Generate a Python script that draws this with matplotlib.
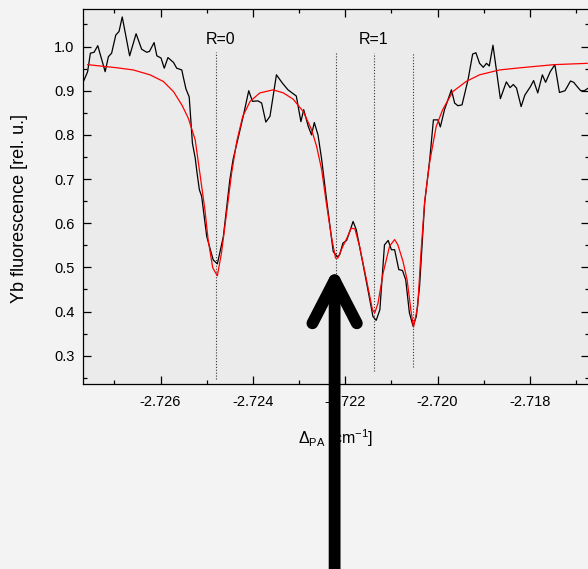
import matplotlib
matplotlib.use("Agg")
import matplotlib.pyplot as plt
from matplotlib.ticker import MultipleLocator, FormatStrFormatter

plt.rcParams['font.family'] = ['Liberation Sans', 'DejaVu Sans']
plt.rcParams['mathtext.fontset'] = 'custom'
plt.rcParams['mathtext.rm'] = 'Liberation Sans'
plt.rcParams['mathtext.it'] = 'Liberation Sans:italic'

# Measured fluorescence spectrum (detuning in cm^-1, fluorescence in rel. u.)
detuning = [
    -2.72767, -2.72758, -2.72752, -2.72744, -2.72736, -2.72720, -2.72713, -2.72706,
    -2.72697, -2.72690, -2.72683, -2.72667, -2.72653, -2.72641, -2.72630, -2.72624,
    -2.72614, -2.72608, -2.72599, -2.72592, -2.72584, -2.72572, -2.72565, -2.72554,
    -2.72551, -2.72545, -2.72538, -2.72535, -2.72531, -2.72525, -2.72521, -2.72516,
    -2.72511, -2.72500, -2.72486, -2.72477, -2.72464, -2.72450, -2.72443, -2.72421,
    -2.72409, -2.72401, -2.72389, -2.72381, -2.72372, -2.72363, -2.72349, -2.72336,
    -2.72324, -2.72306, -2.72296, -2.72290, -2.72280, -2.72273, -2.72267, -2.72259,
    -2.72251, -2.72241, -2.72233, -2.72226, -2.72221, -2.72216, -2.72212, -2.72205,
    -2.72197, -2.72189, -2.72183, -2.72176, -2.72162, -2.72151, -2.72140, -2.72133,
    -2.72125, -2.72115, -2.72107, -2.72100, -2.72093, -2.72084, -2.72076, -2.72069,
    -2.72061, -2.72053, -2.72046, -2.72039, -2.72028, -2.72017, -2.72009, -2.71999,
    -2.71994, -2.71985, -2.71970, -2.71963, -2.71956, -2.71947, -2.71934, -2.71924,
    -2.71917, -2.71909, -2.71901, -2.71894, -2.71888, -2.71880, -2.71864, -2.71851,
    -2.71843, -2.71836, -2.71829, -2.71819, -2.71811, -2.71799, -2.71792, -2.71783,
    -2.71773, -2.71766, -2.71756, -2.71746, -2.71736, -2.71724, -2.71712, -2.71705,
    -2.71699, -2.71690, -2.71682, -2.71675,
]
fluorescence = [
    0.921, 0.943, 0.985, 0.987, 1.002, 0.943, 0.977, 0.985,
    1.026, 1.034, 1.067, 0.979, 1.029, 0.994, 0.987, 0.989,
    1.009, 0.979, 0.974, 0.951, 0.975, 0.964, 0.951, 0.947,
    0.932, 0.904, 0.886, 0.842, 0.781, 0.748, 0.714, 0.676,
    0.661, 0.570, 0.517, 0.508, 0.570, 0.698, 0.744, 0.842,
    0.900, 0.876, 0.877, 0.872, 0.829, 0.842, 0.936, 0.917,
    0.902, 0.888, 0.830, 0.857, 0.819, 0.800, 0.828, 0.800,
    0.744, 0.658, 0.593, 0.536, 0.529, 0.524, 0.529, 0.555,
    0.561, 0.585, 0.604, 0.585, 0.510, 0.450, 0.389, 0.380,
    0.404, 0.551, 0.561, 0.540, 0.540, 0.495, 0.493, 0.472,
    0.397, 0.367, 0.389, 0.457, 0.646, 0.744, 0.834, 0.834,
    0.818, 0.857, 0.902, 0.872, 0.866, 0.868, 0.925, 0.983,
    0.986, 0.962, 0.953, 0.962, 0.956, 1.003, 0.882, 0.920,
    0.907, 0.914, 0.906, 0.864, 0.890, 0.909, 0.923, 0.895,
    0.936, 0.919, 0.943, 0.959, 0.896, 0.900, 0.922, 0.919,
    0.911, 0.900, 0.900, 0.905,
]

# Fitted line profile
fit_detuning = [
    -2.72758, -2.72731, -2.72695, -2.72659, -2.72623, -2.72594, -2.72572, -2.72554,
    -2.72540, -2.72525, -2.72515, -2.72504, -2.72497, -2.72487, -2.72477, -2.72468,
    -2.72457, -2.72446, -2.72435, -2.72422, -2.72406, -2.72385, -2.72356, -2.72334,
    -2.72313, -2.72291, -2.72273, -2.72262, -2.72251, -2.72241, -2.72230, -2.72221,
    -2.72216, -2.72205, -2.72196, -2.72187, -2.72179, -2.72169, -2.72154, -2.72141,
    -2.72136, -2.72129, -2.72118, -2.72104, -2.72093, -2.72086, -2.72075, -2.72066,
    -2.72057, -2.72052, -2.72043, -2.72036, -2.72028, -2.72017, -2.72003, -2.71989,
    -2.71967, -2.71938, -2.71909, -2.71866, -2.71820, -2.71748, -2.71676,
]
fit_fluorescence = [
    0.959, 0.956, 0.952, 0.947, 0.936, 0.921, 0.898, 0.868,
    0.838, 0.789, 0.714, 0.631, 0.563, 0.499, 0.481, 0.533,
    0.623, 0.714, 0.785, 0.842, 0.876, 0.895, 0.902, 0.895,
    0.881, 0.853, 0.812, 0.774, 0.721, 0.646, 0.570, 0.521,
    0.521, 0.548, 0.567, 0.589, 0.587, 0.548, 0.472, 0.404,
    0.397, 0.419, 0.487, 0.548, 0.563, 0.551, 0.514, 0.472,
    0.397, 0.365, 0.412, 0.533, 0.649, 0.739, 0.819, 0.857,
    0.898, 0.921, 0.936, 0.947, 0.952, 0.959, 0.962,
]

# Line positions of the rotational components
line_positions = [-2.72479, -2.72219, -2.72137, -2.72054]
line_bottoms = [0.248, 0.270, 0.266, 0.275]
line_tops = [0.988, 0.988, 0.986, 0.986]
component_labels = ["R=0", "R=1"]
component_label_x = [-2.72471, -2.72138]
arrow_target = (-2.72223, 0.500)

fig = plt.figure(figsize=(5.88, 5.69), dpi=100, facecolor='#f3f3f3')
ax = fig.add_axes([83 / 588, 1 - 384 / 569, (589 - 83) / 588, (384 - 9) / 569])
ax.set_facecolor('#ebebeb')

for xp, yb, yt in zip(line_positions, line_bottoms, line_tops):
    ax.plot([xp, xp], [yb, yt], color='#333333', lw=0.8,
            linestyle=(0, (1, 1.6)), zorder=2)

ax.plot(detuning, fluorescence, color='black', lw=0.9, zorder=3)
ax.plot(fit_detuning, fit_fluorescence, color='#ff0000', lw=0.9, zorder=4)

for lab, lx in zip(component_labels, component_label_x):
    ax.text(lx, 1.015, lab, ha='center', va='center', fontsize=11.5)

ax.set_xlim(-2.72768, -2.71672)
ax.set_ylim(0.236, 1.085)

ax.xaxis.set_major_locator(MultipleLocator(0.002))
ax.xaxis.set_minor_locator(MultipleLocator(0.001))
ax.xaxis.set_major_formatter(FormatStrFormatter('%.3f'))
ax.yaxis.set_major_locator(MultipleLocator(0.1))
ax.yaxis.set_minor_locator(MultipleLocator(0.05))
ax.yaxis.set_major_formatter(FormatStrFormatter('%.1f'))

ax.tick_params(which='both', direction='in', top=True, right=True,
               width=0.9, labelsize=10.5, colors='black')
ax.tick_params(which='major', length=5.5)
ax.tick_params(which='minor', length=3)
ax.tick_params(axis='x', which='major', pad=8)
ax.tick_params(axis='y', which='major', pad=6)
for sp in ax.spines.values():
    sp.set_linewidth(0.9)

ax.set_ylabel('Yb fluorescence [rel. u.]', fontsize=13)
ax.yaxis.set_label_coords(-0.109, 0.467)
ax.set_xlabel(r'$\Delta_{\mathrm{PA}}$ [cm$^{\mathrm{-1}}$]', fontsize=11.5)
ax.xaxis.set_label_coords(0.5, -0.115)

ax.annotate('', xy=arrow_target, xycoords='data',
            xytext=(arrow_target[0], -0.05), textcoords=('data', 'figure fraction'),
            arrowprops=dict(arrowstyle='->,head_length=3.1,head_width=1.6',
                            lw=8.5, color='black', shrinkA=0, shrinkB=0,
                            mutation_scale=10, capstyle='round', joinstyle='round'),
            annotation_clip=False, zorder=6)

fig.savefig('out.png', dpi=100, facecolor=fig.get_facecolor())
